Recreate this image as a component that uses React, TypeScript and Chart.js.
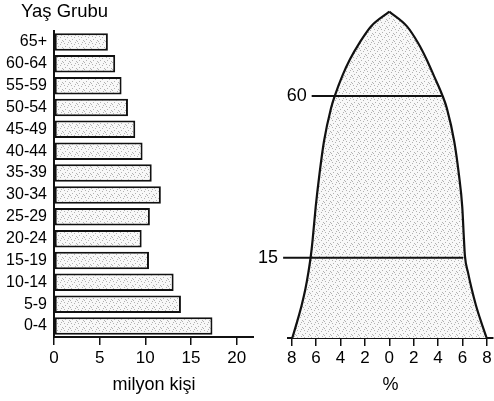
import React, { useEffect, useRef } from 'react';
import { Chart, registerables } from 'chart.js';

Chart.register(...registerables);

// ---- Data ----
const ageGroups = ['65+', '60-64', '55-59', '50-54', '45-49', '40-44', '35-39', '30-34', '25-29', '20-24', '15-19', '10-14', '5-9', '0-4'];
const populationMillions = [5.9, 6.7, 7.4, 8.1, 8.9, 9.7, 10.7, 11.7, 10.5, 9.6, 10.4, 13.1, 13.9, 17.35];
const populationTicks = [0, 5, 10, 15, 20];

const percentTicks = [-8, -6, -4, -2, 0, 2, 4, 6, 8];
// Outline of the schematic pyramid (x = %, y = relative height 0-100)
const leftEdgeX = [-7.95, -7.55, -7.18, -6.87, -6.63, -6.43, -6.28, -6.03, -5.72, -5.35, -4.78, -4.45, -3.84, -3.22, -2.44, -1.5, 0];
const leftEdgeY = [0, 5, 10, 15, 20, 25, 30, 40, 50, 60, 70, 74, 80, 85, 90, 95, 99.5];
const rightEdgeX = [0, 1.45, 2.35, 3.05, 3.65, 4.35, 4.72, 5.32, 5.7, 5.98, 6.12, 6.2, 6.45, 6.75, 7.1, 7.52, 7.98];
const rightEdgeY = [99.5, 95, 90, 85, 80, 74, 70, 60, 50, 40, 30, 25, 20, 15, 10, 5, 0];
const levelLabels = ['60', '15'];
const levelHeights = [73.8, 24.5];
const levelStartX = [-6.36, -8.7];
const levelEndX = [4.3, 6.05];

const FONT = '"Liberation Sans", Arial, Helvetica, sans-serif';
Chart.defaults.font.family = FONT;

function makeStipple(): CanvasPattern | string {
  const c = document.createElement('canvas');
  c.width = 7;
  c.height = 7;
  const g = c.getContext('2d');
  if (!g) return '#eeeeee';
  g.fillStyle = '#f8f8f8';
  g.fillRect(0, 0, 7, 7);
  g.fillStyle = '#b2b2b2';
  [[1, 1], [4, 2], [2, 4], [6, 5], [5, 0], [0, 6]].forEach(([x, y]) => g.fillRect(x, y, 1, 1));
  return g.createPattern(c, 'repeat') || '#eeeeee';
}

const ageTitlePlugin = {
  id: 'ageTitle',
  afterDraw(chart: any) {
    const { ctx, chartArea } = chart;
    ctx.save();
    ctx.font = `18.5px ${FONT}`;
    ctx.fillStyle = '#000';
    ctx.textAlign = 'left';
    ctx.textBaseline = 'middle';
    ctx.fillText('Yaş Grubu', chartArea.left - 33, chartArea.top - 19);
    ctx.restore();
  },
};

const levelLabelPlugin = {
  id: 'levelLabels',
  afterDatasetsDraw(chart: any) {
    const { ctx } = chart;
    const xs = chart.scales.x;
    const ys = chart.scales.y;
    ctx.save();
    ctx.font = `18px ${FONT}`;
    ctx.fillStyle = '#000';
    ctx.textAlign = 'right';
    ctx.textBaseline = 'middle';
    levelLabels.forEach((t, i) => {
      ctx.fillText(t, xs.getPixelForValue(levelStartX[i]) - 5, ys.getPixelForValue(levelHeights[i]));
    });
    ctx.restore();
  },
};

export default function App() {
  const leftRef = useRef<HTMLCanvasElement>(null);
  const rightRef = useRef<HTMLCanvasElement>(null);

  useEffect(() => {
    if (!leftRef.current || !rightRef.current) return;
    const stipple = makeStipple();

    const left = new Chart(leftRef.current, {
      type: 'bar',
      data: {
        labels: ageGroups,
        datasets: [
          {
            data: populationMillions,
            backgroundColor: stipple as any,
            borderColor: '#111',
            borderWidth: 2,
            borderSkipped: false,
            barPercentage: 0.8,
            categoryPercentage: 1,
          },
        ],
      },
      options: {
        indexAxis: 'y',
        animation: false,
        responsive: false,
        layout: { padding: { top: 31, right: 0, left: 0, bottom: 0 } },
        plugins: { legend: { display: false }, tooltip: { enabled: false } },
        scales: {
          x: {
            type: 'linear',
            min: 0,
            max: 21.9,
            position: 'bottom',
            afterBuildTicks: (s: any) => {
              s.ticks = populationTicks.map((v) => ({ value: v }));
            },
            afterFit: (s: any) => {
              s.height = 64;
            },
            grid: { drawOnChartArea: false, drawTicks: true, tickLength: 8, color: '#111', lineWidth: 1.5 },
            border: { display: true, color: '#111', width: 2 },
            ticks: { color: '#000', font: { size: 17 }, padding: 3, maxRotation: 0, autoSkip: false },
            title: { display: true, text: 'milyon kişi', color: '#000', font: { size: 18 }, padding: { top: 0, bottom: 5 } },
          },
          y: {
            type: 'category',
            offset: true,
            afterFit: (s: any) => {
              s.width = 54;
            },
            grid: { display: false, drawTicks: false },
            border: { display: true, color: '#111', width: 2 },
            ticks: { color: '#000', font: { size: 16 }, padding: 7, autoSkip: false },
          },
        },
      },
      plugins: [ageTitlePlugin],
    } as any);

    const pts = (xs: number[], ys: number[]) => xs.map((x, i) => ({ x, y: ys[i] }));
    const outline = pts(leftEdgeX, leftEdgeY).concat(pts(rightEdgeX.slice(1), rightEdgeY.slice(1)));

    const levelSets = levelHeights.map((h, i) => ({
      data: [
        { x: levelStartX[i], y: h },
        { x: levelEndX[i], y: h },
      ],
      borderColor: '#111',
      borderWidth: 2,
      fill: false,
      clip: false,
      order: 0,
    }));

    const right = new Chart(rightRef.current, {
      type: 'line',
      data: {
        datasets: [
          ...levelSets,
          {
            data: pts(leftEdgeX, leftEdgeY),
            borderColor: '#111',
            borderWidth: 2.2,
            fill: false,
            cubicInterpolationMode: 'monotone',
            clip: false,
            order: 1,
          },
          {
            data: pts(rightEdgeX, rightEdgeY),
            borderColor: '#111',
            borderWidth: 2.2,
            fill: false,
            cubicInterpolationMode: 'monotone',
            clip: false,
            order: 1,
          },
          {
            data: outline,
            borderWidth: 0,
            borderColor: 'rgba(0,0,0,0)',
            backgroundColor: stipple as any,
            fill: 'origin',
            tension: 0,
            order: 5,
          },
        ],
      },
      options: {
        animation: false,
        responsive: false,
        layout: { padding: { top: 10, right: 1, left: 34, bottom: 0 } },
        elements: { point: { radius: 0 } },
        plugins: { legend: { display: false }, tooltip: { enabled: false } },
        scales: {
          x: {
            type: 'linear',
            min: -8.3,
            max: 8.5,
            position: 'bottom',
            afterBuildTicks: (s: any) => {
              s.ticks = percentTicks.map((v) => ({ value: v }));
            },
            afterFit: (s: any) => {
              s.height = 63;
            },
            grid: { drawOnChartArea: false, drawTicks: true, tickLength: 8, color: '#111', lineWidth: 1.5 },
            border: { display: true, color: '#111', width: 2 },
            ticks: {
              color: '#000',
              font: { size: 17 },
              padding: 2,
              maxRotation: 0,
              autoSkip: false,
              callback: (v: any) => String(Math.abs(Number(v))),
            },
            title: { display: true, text: '%', color: '#000', font: { size: 18 }, padding: { top: 0, bottom: 5 } },
          },
          y: { type: 'linear', min: 0, max: 100, display: false },
        },
      },
      plugins: [levelLabelPlugin],
    } as any);

    return () => {
      left.destroy();
      right.destroy();
    };
  }, []);

  return (
    <div style={{ position: 'absolute', left: 0, top: 0, width: 494, height: 401, background: '#fff' }}>
      <canvas ref={leftRef} width={254} height={401} style={{ position: 'absolute', left: 0, top: 0, width: 254, height: 401 }} />
      <canvas ref={rightRef} width={240} height={401} style={{ position: 'absolute', left: 254, top: 0, width: 240, height: 401 }} />
    </div>
  );
}
